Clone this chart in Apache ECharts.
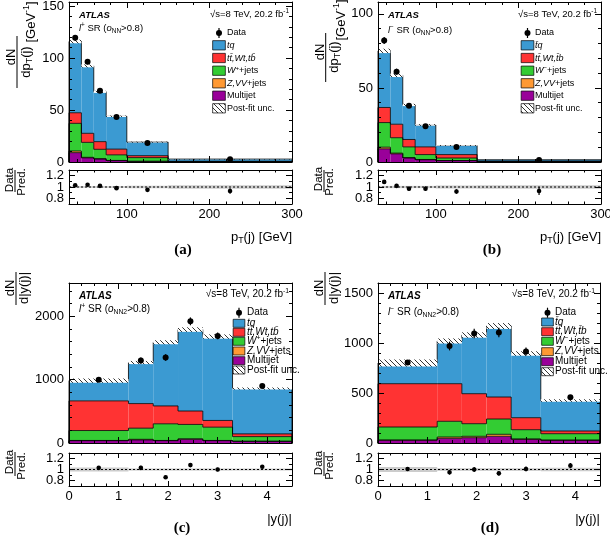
<!DOCTYPE html>
<html><head><meta charset="utf-8">
<script src="https://cdn.jsdelivr.net/npm/echarts@6/dist/echarts.min.js"></script>
<style>html,body{margin:0;padding:0;background:#fff}#c{width:610px;height:540px}</style>
</head><body><div id="c"></div>
<script>
// ---------------- data ----------------
const ptEdges = [30, 45, 60, 75, 100, 150, 300];
const yEdges = [0, 1.2, 1.7, 2.2, 2.7, 3.3, 4.5];

const ptTicks = [100, 200, 300];
const ptMinor = [40, 60, 80, 120, 140, 160, 180, 220, 240, 260, 280];
const yjTicks = [0, 1, 2, 3, 4];
const yjMinor = [0.25, 0.5, 0.75, 1.25, 1.5, 1.75, 2.25, 2.5, 2.75, 3.25, 3.5, 3.75, 4.25];
const ratioTicks = [0.8, 1, 1.2];
const ratioMinor = [0.9, 1.1];
const aTicks = [0, 50, 100, 150];
const aMinor = [10, 20, 30, 40, 60, 70, 80, 90, 110, 120, 130, 140];
const bTicks = [0, 50, 100];
const bMinor = [10, 20, 30, 40, 60, 70, 80, 90];
const cTicks = [0, 1000, 2000];
const cMinor = [200, 400, 600, 800, 1200, 1400, 1600, 1800, 2200, 2400];
const dTicks = [0, 500, 1000, 1500];
const dMinor = [100, 200, 300, 400, 600, 700, 800, 900, 1100, 1200, 1300, 1400];

// (a) l+ , pT(j)
const a_mj   = [9.0, 4.0, 2.9, 1.3, 0.6, 0.10];
const a_zvv  = [1.6, 0.5, 0.3, 0.2, 0.1, 0.02];
const a_wj   = [26.6, 14.4, 9.0, 5.4, 3.5, 0.28];
const a_tt   = [10.2, 8.7, 7.4, 5.5, 1.9, 0.3];
const a_tq   = [68.6, 64.9, 47.9, 31.6, 13.1, 2.1];
const a_data = [119.5, 96.5, 68.5, 43.3, 18.3, 2.6];
const a_dataErr = [2.8, 2.5, 2.1, 1.3, 0.6, 0.13];
const a_unc  = [0.015, 0.015, 0.015, 0.015, 0.02, 0.03];
const a_ratio = [1.03, 1.04, 1.02, 0.98, 0.95, 0.93];
const a_ratioErr = [0.025, 0.027, 0.031, 0.03, 0.03, 0.05];

// (b) l- , pT(j)
const b_mj   = [8.9, 5.5, 2.7, 1.5, 0.9, 0.1];
const b_zvv  = [1.1, 0.5, 0.3, 0.2, 0.1, 0.02];
const b_wj   = [16.6, 10.4, 7.2, 3.3, 1.7, 0.18];
const b_tt   = [10.2, 9.1, 5.0, 5.2, 2.3, 0.3];
const b_tq   = [38.2, 33.0, 23.3, 14.8, 6.1, 0.9];
const b_data = [82, 61, 38, 24.2, 10.2, 1.4];
const b_dataErr = [2.3, 2.0, 1.6, 1.0, 0.45, 0.1];
const b_unc  = [0.02, 0.02, 0.02, 0.02, 0.025, 0.03];
const b_ratio = [1.09, 1.02, 0.97, 0.97, 0.92, 0.93];
const b_ratioErr = [0.03, 0.034, 0.04, 0.04, 0.04, 0.07];

// (c) l+ , |y(j)|
const c_mj   = [37, 48, 37, 60, 37, 26];
const c_zvv  = [3, 10, 3, 5, 3, 2];
const c_wj   = [157, 176, 263, 228, 210, 73];
const c_tt   = [468, 388, 282, 212, 106, 43];
const c_tq   = [320, 648, 1005, 1285, 1324, 716];
const c_data = [1000, 1300, 1350, 1920, 1690, 900];
const c_dataErr = [29, 51, 52, 62, 53, 27];
const c_unc  = [0.035, 0.02, 0.02, 0.02, 0.02, 0.02];
const c_ratio = [1.03, 1.03, 0.86, 1.08, 1.0, 1.05];
const c_ratioErr = [0.03, 0.04, 0.033, 0.035, 0.032, 0.031];

// (d) l- , |y(j)|
const d_mj   = [27, 47, 53, 67, 37, 27];
const d_zvv  = [3, 13, 14, 20, 3, 2];
const d_wj   = [130, 157, 126, 153, 93, 64];
const d_tt   = [433, 376, 300, 220, 120, 27];
const d_tq   = [207, 427, 587, 710, 642, 305];
const d_data = [805, 970, 1095, 1105, 915, 457];
const d_dataErr = [26, 44, 47, 47, 39, 19.5];
const d_unc  = [0.045, 0.025, 0.025, 0.025, 0.025, 0.03];
const d_ratio = [1.01, 0.95, 1.0, 0.93, 1.01, 1.07];
const d_ratioErr = [0.033, 0.043, 0.044, 0.04, 0.044, 0.046];

// ---------------- style ----------------
const F = '"Liberation Sans", Arial, Helvetica, sans-serif';
const COL = { mj: '#990099', zvv: '#ff9933', wj: '#33cc33', tt: '#ff3333', tq: '#3b9ad2' };

function makeHatch() {
  const c = document.createElement('canvas'); c.width = 5; c.height = 5;
  const g = c.getContext('2d');
  g.fillStyle = '#ffffff'; g.fillRect(0, 0, 5, 5);
  g.strokeStyle = '#333'; g.lineWidth = 1;
  g.beginPath(); g.moveTo(-1, -1); g.lineTo(6, 6); g.stroke();
  return c;
}
const HATCH = { image: makeHatch(), repeat: 'repeat' };

const option = { animation: false, grid: [], xAxis: [], yAxis: [], series: [], graphic: { elements: [] } };
const G = option.graphic.elements;

function fmt(v) { return String(Math.round(v * 100) / 100); }

// labelVals: array of values to label, or null for none
function axis(kind, gi, pos, s, vals, len, line, labelVals, fs) {
  return {
    gridIndex: gi, type: 'value', min: s.min, max: s.max, position: pos, z: 10, silent: true,
    axisLine: { show: line, onZero: false, lineStyle: { color: '#000', width: 1 } },
    axisTick: { show: true, inside: true, length: len, customValues: vals, lineStyle: { color: '#000', width: 1 } },
    axisLabel: { show: !!labelVals, customValues: labelVals || vals, formatter: fmt, fontSize: fs, fontFamily: F, color: '#000',
      margin: kind === 'x' ? 4 : 5, hideOverlap: false, showMinLabel: true, showMaxLabel: true },
    splitLine: { show: false }, splitArea: { show: false }, minorTick: { show: false }
  };
}

function addGrid(g) {
  option.grid.push({ left: g.left, top: g.top, width: g.width, height: g.height, containLabel: false, outerBoundsMode: 'none' });
  return option.grid.length - 1;
}

function addAxes(gi, xs, ys, xLabels, ml) {
  const xi = option.xAxis.length, yi = option.yAxis.length;
  option.xAxis.push(
    axis('x', gi, 'bottom', xs, xs.major, ml, true, xLabels ? xs.major : null, 13),
    axis('x', gi, 'bottom', xs, xs.minor, ml / 2, false, null, 13),
    axis('x', gi, 'top', xs, xs.major, ml, true, null, 13),
    axis('x', gi, 'top', xs, xs.minor, ml / 2, false, null, 13));
  option.yAxis.push(
    axis('y', gi, 'left', ys, ys.major, 6, true, ys.labA, 13),
    axis('y', gi, 'left', ys, ys.minor, 3, false, ys.labB, 13),
    axis('y', gi, 'right', ys, ys.major, 6, true, null, 13),
    axis('y', gi, 'right', ys, ys.minor, 3, false, null, 13));
  return { xi, yi };
}

function rich(fs) {
  return {
    n: { fontSize: fs, fontFamily: F, color: '#000', lineHeight: fs * 1.3 },
    i: { fontSize: fs, fontFamily: F, fontStyle: 'italic', color: '#000', lineHeight: fs * 1.3 },
    b: { fontSize: fs, fontFamily: F, fontStyle: 'italic', fontWeight: 'bold', color: '#000', lineHeight: fs * 1.3 },
    sub: { fontSize: fs * 0.68, fontFamily: F, color: '#000', verticalAlign: 'bottom' },
    sup: { fontSize: fs * 0.68, fontFamily: F, color: '#000', verticalAlign: 'top' }
  };
}
function T(x, y, text, fs, align, extra) {
  G.push(Object.assign({ type: 'text', x: x, y: y, silent: true, z: 20,
    style: { text: text, rich: rich(fs), fontSize: fs, fontFamily: F, fill: '#000', align: align || 'left', verticalAlign: 'middle' } }, extra || {}));
}
function L(x1, y1, x2, y2, w) {
  G.push({ type: 'line', silent: true, z: 20, shape: { x1, y1, x2, y2 }, style: { stroke: '#000', lineWidth: w || 1 } });
}
const ROT = { rotation: Math.PI / 2 };

function addPanel(P) {
  const gm = addGrid(P.mgrid), gr = addGrid(P.rgrid);
  const xs = { min: P.edges[0], max: P.edges[P.edges.length - 1], major: P.xMajor, minor: P.xMinor };
  const am = addAxes(gm, xs, { min: 0, max: P.ymax, major: P.yMajor, minor: P.yMinor, labA: P.yMajor, labB: null }, false, 6);
  const ar = addAxes(gr, xs, { min: 0.7, max: 1.3, major: ratioTicks, minor: ratioMinor,
    labA: [ratioTicks[0], ratioTicks[2]], labB: [ratioTicks[1]] }, true, 5);
  const edges = P.edges, n = edges.length - 1;
  const comps = [P.mj, P.zvv, P.wj, P.tt, P.tq];
  const cols = [COL.mj, COL.zvv, COL.wj, COL.tt, COL.tq];
  const cum = [];
  comps.forEach((arr, k) => { cum.push(arr.map((v, i) => v + (k ? cum[k - 1][i] : 0))); });
  const total = cum[4];
  const idx = []; for (let i = 0; i < n; i++) idx.push([i, 1]);
  const base = { type: 'custom', data: idx, silent: true };

  comps.forEach((arr, k) => {
    option.series.push(Object.assign({}, base, { xAxisIndex: am.xi, yAxisIndex: am.yi, z: 2,
      renderItem: (p, api) => {
        const i = api.value(0);
        const lo = k ? cum[k - 1][i] : 0, hi = cum[k][i];
        const p0 = api.coord([edges[i], lo]), p1 = api.coord([edges[i + 1], hi]);
        return { type: 'rect', shape: { x: p0[0], y: p1[1], width: p1[0] - p0[0], height: p0[1] - p1[1] }, style: { fill: cols[k] } };
      } }));
  });
  // outlines
  option.series.push(Object.assign({}, base, { xAxisIndex: am.xi, yAxisIndex: am.yi, z: 3,
    renderItem: (p, api) => {
      const i = api.value(0); const ch = [];
      for (let k = 0; k < 5; k++) {
        const a = api.coord([edges[i], cum[k][i]]), b = api.coord([edges[i + 1], cum[k][i]]);
        ch.push({ type: 'line', shape: { x1: a[0], y1: a[1], x2: b[0], y2: b[1] }, style: { stroke: '#000', lineWidth: 0.8 } });
        const prev = i ? cum[k][i - 1] : 0;
        const c = api.coord([edges[i], prev]);
        ch.push({ type: 'line', shape: { x1: a[0], y1: c[1], x2: a[0], y2: a[1] }, style: { stroke: '#000', lineWidth: 0.8 } });
        if (i === n - 1) {
          const d = api.coord([edges[n], 0]);
          ch.push({ type: 'line', shape: { x1: b[0], y1: b[1], x2: b[0], y2: d[1] }, style: { stroke: '#000', lineWidth: 0.8 } });
        }
      }
      return { type: 'group', children: ch };
    } }));
  // uncertainty hatch
  option.series.push(Object.assign({}, base, { xAxisIndex: am.xi, yAxisIndex: am.yi, z: 4,
    renderItem: (p, api) => {
      const i = api.value(0);
      const p0 = api.coord([edges[i], total[i] * (1 - P.unc[i])]), p1 = api.coord([edges[i + 1], total[i] * (1 + P.unc[i])]);
      return { type: 'rect', shape: { x: p0[0], y: p1[1], width: p1[0] - p0[0], height: p0[1] - p1[1] }, style: { fill: HATCH } };
    } }));
  // data
  option.series.push(Object.assign({}, base, { xAxisIndex: am.xi, yAxisIndex: am.yi, z: 5,
    renderItem: (p, api) => {
      const i = api.value(0); const x = (edges[i] + edges[i + 1]) / 2;
      const c = api.coord([x, P.data[i]]), t = api.coord([x, P.data[i] + P.dataErr[i]]), b = api.coord([x, P.data[i] - P.dataErr[i]]);
      return { type: 'group', children: [
        { type: 'line', shape: { x1: c[0], y1: t[1], x2: c[0], y2: b[1] }, style: { stroke: '#000', lineWidth: 1.2 } },
        { type: 'circle', shape: { cx: c[0], cy: c[1], r: 3 }, style: { fill: '#000' } }] };
    } }));
  // ratio band
  option.series.push(Object.assign({}, base, { xAxisIndex: ar.xi, yAxisIndex: ar.yi, z: 2,
    renderItem: (p, api) => {
      const i = api.value(0);
      const p0 = api.coord([edges[i], 1 - P.unc[i]]), p1 = api.coord([edges[i + 1], 1 + P.unc[i]]);
      return { type: 'rect', shape: { x: p0[0], y: p1[1], width: p1[0] - p0[0], height: p0[1] - p1[1] }, style: { fill: '#cccccc' } };
    } }));
  // ratio line at 1
  option.series.push(Object.assign({}, base, { data: [[0, 1]], xAxisIndex: ar.xi, yAxisIndex: ar.yi, z: 3,
    renderItem: (p, api) => {
      const a = api.coord([edges[0], 1]), b = api.coord([edges[n], 1]);
      return { type: 'line', shape: { x1: a[0], y1: a[1], x2: b[0], y2: b[1] }, style: { stroke: '#000', lineWidth: 1, lineDash: [2, 2] } };
    } }));
  // ratio points
  option.series.push(Object.assign({}, base, { xAxisIndex: ar.xi, yAxisIndex: ar.yi, z: 5,
    renderItem: (p, api) => {
      const i = api.value(0); const x = (edges[i] + edges[i + 1]) / 2;
      const v = P.ratio[i], e = P.ratioErr[i];
      const c = api.coord([x, v]), t = api.coord([x, v + e]), b = api.coord([x, v - e]);
      return { type: 'group', children: [
        { type: 'line', shape: { x1: c[0], y1: t[1], x2: c[0], y2: b[1] }, style: { stroke: '#000', lineWidth: 1.2 } },
        { type: 'circle', shape: { cx: c[0], cy: c[1], r: 2.3 }, style: { fill: '#000' } }] };
    } }));

  // ---- texts ----
  const t = P.txt;
  T(t.atlas[0], t.atlas[1], '{b|ATLAS}', t.fs, 'left');
  T(t.sqrt[0], t.sqrt[1], '{n|√s=8 TeV, 20.2 fb}{sup|-1}', t.fs, 'right');
  T(t.region[0], t.region[1], t.regionText, t.fs, 'left');
  // legend
  const lg = t.legend;
  const labels = t.legendText;
  const fills = [null, COL.tq, COL.tt, COL.wj, COL.zvv, COL.mj, HATCH];
  lg.rows.forEach((ry, r) => {
    if (r === 0) {
      L(lg.mx, ry - 5, lg.mx, ry + 5, 1.2);
      G.push({ type: 'circle', silent: true, z: 20, shape: { cx: lg.mx, cy: ry, r: 3 }, style: { fill: '#000' } });
    } else {
      G.push({ type: 'rect', silent: true, z: 20, shape: { x: lg.mx - lg.bw / 2, y: ry - lg.bh / 2, width: lg.bw, height: lg.bh },
        style: { fill: fills[r], stroke: '#000', lineWidth: 0.7 } });
    }
    T(lg.tx, ry, labels[r], lg.fs, 'left');
  });
  // y titles
  const y = t.ytitle;
  T(y.num[0], y.num[1], '{n|dN}', 13, 'center', ROT);
  L(y.line[0], y.line[1], y.line[0], y.line[2], 1);
  T(y.den[0], y.den[1], y.denText, 13, 'center', ROT);
  if (y.unit) T(y.unit[0], y.unit[1], '{n|[GeV}{sup|-1}{n|]}', 13, 'center', ROT);
  const r = t.rtitle;
  T(r.num[0], r.num[1], '{n|Data}', 11.5, 'center', ROT);
  L(r.line[0], r.line[1], r.line[0], r.line[2], 1);
  T(r.den[0], r.den[1], '{n|Pred.}', 11.5, 'center', ROT);
  T(t.xtitle[0], t.xtitle[1], t.xtitleText, 13, 'right');
  G.push({ type: 'text', x: t.label[0], y: t.label[1], silent: true, z: 20,
    style: { text: t.labelText, fontSize: 15, fontWeight: 'bold', fontFamily: '"Liberation Serif", "Times New Roman", serif', fill: '#000', align: 'center', verticalAlign: 'middle' } });
}

const legPlus = ['{n|Data}', '{i|tq}', '{i|tt\u0304,Wt,tb\u0304}', '{i|W}{sup|+}{n|+jets}', '{i|Z,VV}{n|+jets}', '{n|Multijet}', '{n|Post-fit unc.}'];
const legMinus = ['{n|Data}', '{i|t\u0304q}', '{i|tt\u0304,Wt,t\u0304b}', '{i|W}{sup|−}{n|+jets}', '{i|Z,VV}{n|+jets}', '{n|Multijet}', '{n|Post-fit unc.}'];
const ptTitle = '{n|p}{sub|T}{n|(j) [GeV]}';
const yjTitle = '{n||y(j)|}';

addPanel({
  edges: ptEdges, xMajor: ptTicks, xMinor: ptMinor, ymax: 154, yMajor: aTicks, yMinor: aMinor,
  mj: a_mj, zvv: a_zvv, wj: a_wj, tt: a_tt, tq: a_tq, data: a_data, dataErr: a_dataErr, unc: a_unc, ratio: a_ratio, ratioErr: a_ratioErr,
  mgrid: { left: 69, top: 2, width: 223, height: 160 }, rgrid: { left: 69, top: 170, width: 223, height: 34 },
  txt: { fs: 9.5, atlas: [79, 15], sqrt: [289, 14], region: [79, 28],
    regionText: '{i|l}{sup|+}{n| SR (}{i|o}{sub|NN}{n|>0.8)}',
    legend: { mx: 219, tx: 227, bw: 12.7, bh: 9.3, fs: 9, rows: [33, 45.3, 58, 70.7, 83.3, 95.7, 108.3] }, legendText: legPlus,
    ytitle: { num: [11, 57], line: [17, 36, 88], den: [26, 62], denText: '{n|dp}{sub|T}{n|(j)}', unit: [31, 22] },
    rtitle: { num: [9.5, 180], line: [15, 170, 192], den: [22, 182] },
    xtitle: [292, 237], xtitleText: ptTitle, label: [183, 250], labelText: '(a)' }
});
addPanel({
  edges: ptEdges, xMajor: ptTicks, xMinor: ptMinor, ymax: 108, yMajor: bTicks, yMinor: bMinor,
  mj: b_mj, zvv: b_zvv, wj: b_wj, tt: b_tt, tq: b_tq, data: b_data, dataErr: b_dataErr, unc: b_unc, ratio: b_ratio, ratioErr: b_ratioErr,
  mgrid: { left: 378, top: 2, width: 223, height: 160 }, rgrid: { left: 378, top: 170, width: 223, height: 34 },
  txt: { fs: 9.5, atlas: [388, 15], sqrt: [597, 14], region: [388, 30],
    regionText: '{i|l}{sup|−}{n| SR (}{i|o}{sub|NN}{n|>0.8)}',
    legend: { mx: 527.5, tx: 535, bw: 12.7, bh: 9.3, fs: 9, rows: [33, 45.3, 58, 70.7, 83.3, 95.7, 108.3] }, legendText: legMinus,
    ytitle: { num: [320, 52], line: [325.7, 33, 82], den: [334, 57], denText: '{n|dp}{sub|T}{n|(j)}', unit: [341, 20] },
    rtitle: { num: [319, 179], line: [324, 170, 192], den: [330, 182] },
    xtitle: [601, 237], xtitleText: ptTitle, label: [492, 250], labelText: '(b)' }
});
addPanel({
  edges: yEdges, xMajor: yjTicks, xMinor: yjMinor, ymax: 2525, yMajor: cTicks, yMinor: cMinor,
  mj: c_mj, zvv: c_zvv, wj: c_wj, tt: c_tt, tq: c_tq, data: c_data, dataErr: c_dataErr, unc: c_unc, ratio: c_ratio, ratioErr: c_ratioErr,
  mgrid: { left: 69, top: 283, width: 223, height: 160 }, rgrid: { left: 69, top: 453, width: 223, height: 33 },
  txt: { fs: 10, atlas: [79, 296], sqrt: [289, 294], region: [79, 309],
    regionText: '{i|l}{sup|+}{n| SR (}{i|o}{sub|NN2}{n|>0.8)}',
    legend: { mx: 239, tx: 247, bw: 11.7, bh: 8, fs: 10, rows: [312.7, 323.3, 332.3, 341.3, 351, 360.7, 370] }, legendText: legPlus,
    ytitle: { num: [10, 288], line: [16, 272, 305], den: [24, 288], denText: '{n|d|y(j)|}', unit: null },
    rtitle: { num: [9.5, 462], line: [15, 452, 476], den: [22, 466] },
    xtitle: [292, 519], xtitleText: yjTitle, label: [182, 528], labelText: '(c)' }
});
addPanel({
  edges: yEdges, xMajor: yjTicks, xMinor: yjMinor, ymax: 1600, yMajor: dTicks, yMinor: dMinor,
  mj: d_mj, zvv: d_zvv, wj: d_wj, tt: d_tt, tq: d_tq, data: d_data, dataErr: d_dataErr, unc: d_unc, ratio: d_ratio, ratioErr: d_ratioErr,
  mgrid: { left: 378, top: 283, width: 222, height: 160 }, rgrid: { left: 378, top: 453, width: 222, height: 33 },
  txt: { fs: 10, atlas: [388, 296], sqrt: [595, 294], region: [388, 312],
    regionText: '{i|l}{sup|−}{n| SR (}{i|o}{sub|NN2}{n|>0.8)}',
    legend: { mx: 547.5, tx: 555, bw: 11.7, bh: 8, fs: 10, rows: [312.7, 322, 331.7, 341.3, 351.7, 361.7, 371.7] }, legendText: legMinus,
    ytitle: { num: [319, 288], line: [325, 272, 305], den: [334, 288], denText: '{n|d|y(j)|}', unit: null },
    rtitle: { num: [319, 463], line: [324, 452, 476], den: [330, 466] },
    xtitle: [600, 519], xtitleText: yjTitle, label: [490, 528], labelText: '(d)' }
});

const chart = echarts.init(document.getElementById('c'), null, { renderer: 'canvas' });
chart.setOption(option);
</script>
</body></html>
